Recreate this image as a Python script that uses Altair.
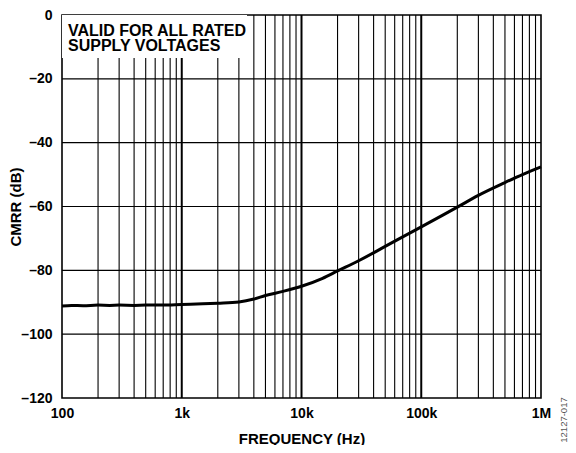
import altair as alt
import pandas as pd

freq = [100, 120, 150, 200, 250, 300, 400, 500, 700, 1000, 1500, 2000, 3000, 4000,
        5000, 7000, 10000, 15000, 20000, 30000, 50000, 70000, 100000, 150000,
        200000, 300000, 500000, 700000, 1000000]
cmrr = [-91.2, -91.0, -91.1, -90.9, -91.0, -90.9, -91.0, -90.9, -90.9, -90.7, -90.5,
        -90.3, -89.9, -89.0, -87.9, -86.6, -85.0, -82.5, -80.2, -77.0, -72.5, -69.5,
        -66.4, -62.8, -60.2, -56.5, -52.5, -50.0, -47.6]

decades = [1000, 10000, 100000]
minor = [m * 10 ** e for e in range(2, 6) for m in range(2, 10)]
y_grid = [-20, -40, -60, -80, -100]
x_ticks = [100, 1000, 10000, 100000, 1000000]
x_labels = ["100", "1k", "10k", "100k", "1M"]
y_ticks = [0, -20, -40, -60, -80, -100, -120]
note_lines = ["VALID FOR ALL RATED", "SUPPLY VOLTAGES"]
code_text = "12127-017"

W, H = 479, 383
FONT = "Liberation Sans"

xscale = alt.Scale(type="log", domain=[100, 1000000], nice=False)
yscale = alt.Scale(domain=[-120, 0], nice=False)

label_map = "{" + ",".join(f"'{v}':'{l}'" for v, l in zip(x_ticks, x_labels)) + "}"

xaxis = alt.Axis(values=x_ticks, grid=False, ticks=False, tickSize=0,
                 domain=False, labelPadding=8, labelFlush=False,
                 labelExpr=f"{label_map}[datum.value]",
                 title="FREQUENCY (Hz)", titleX=239.5, titleY=40,
                 titleBaseline="middle", titleAlign="center")
yaxis = alt.Axis(values=y_ticks, grid=False, ticks=False, tickSize=0,
                 domain=False, labelPadding=10, labelFlush=False,
                 labelExpr="datum.value < 0 ? '\u2013' + abs(datum.value) : '0'",
                 title="CMRR (dB)", titleX=-46.5, titleY=191.5,
                 titleBaseline="middle", titleAlign="center", titleAngle=270)

minor_rules = alt.Chart(pd.DataFrame({"f": minor})).mark_rule(
    color="black", strokeWidth=1.1).encode(
    x=alt.X("f:Q", scale=xscale, axis=xaxis))
decade_rules = alt.Chart(pd.DataFrame({"f": decades})).mark_rule(
    color="black", strokeWidth=2).encode(
    x=alt.X("f:Q", scale=xscale, axis=xaxis))
h_rules = alt.Chart(pd.DataFrame({"c": y_grid})).mark_rule(
    color="black", strokeWidth=1.2).encode(
    y=alt.Y("c:Q", scale=yscale, axis=yaxis))

box = alt.Chart(pd.DataFrame({"a": [0]})).mark_rect(color="white").encode(
    x=alt.value(0), x2=alt.value(185), y=alt.value(0), y2=alt.value(43))

note_layers = []
for i, t in enumerate(note_lines):
    note_layers.append(
        alt.Chart(pd.DataFrame({"t": [t]})).mark_text(
            align="left", baseline="alphabetic", font=FONT, fontWeight="bold",
            fontSize=16, color="black").encode(
            text="t:N", x=alt.value(6), y=alt.value(21 + 15 * i)))

line = alt.Chart(pd.DataFrame({"f": freq, "c": cmrr})).mark_line(
    color="black", strokeWidth=3, interpolate="monotone").encode(
    x=alt.X("f:Q", scale=xscale, axis=xaxis),
    y=alt.Y("c:Q", scale=yscale, axis=yaxis),
)

code = alt.Chart(pd.DataFrame({"t": [code_text]})).mark_text(
    angle=270, font=FONT, fontSize=9.5, color="#555555", align="center",
    baseline="middle").encode(
    text="t:N", x=alt.value(502), y=alt.value(405))

chart = alt.layer(minor_rules, decade_rules, h_rules, box, *note_layers, line, code).properties(
    width=W, height=H,
    autosize=alt.AutoSizeParams(type="none"),
    padding={"left": 54, "top": 7, "right": 27, "bottom": 47},
).configure_view(stroke="black", strokeWidth=1.6).configure_axis(
    labelFont=FONT, labelFontWeight="bold", labelFontSize=14, labelColor="black",
    titleFont=FONT, titleFontWeight="bold", titleFontSize=15, titleColor="black",
).configure_axisX(labelAngle=0)

chart.save("out.html", embed_options={"renderer": "svg", "actions": False})
